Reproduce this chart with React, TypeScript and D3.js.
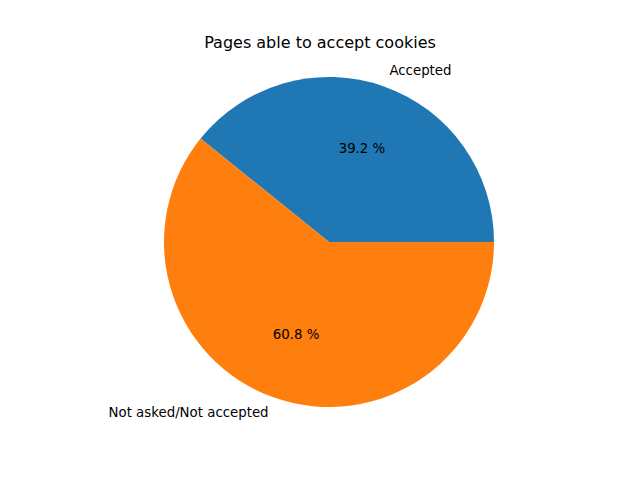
import * as d3 from "d3";

const labels = ["Accepted", "Not asked/Not accepted"];
const shares = [39.2, 60.8];
const colors = ["#1f77b4", "#ff7f0e"];

export default function App() {
  const width = 640;
  const height = 480;
  const cx = 329;
  const cy = 242;
  const r = 165;
  const total = d3.sum(shares);
  const arc = d3.arc<any>();

  // matplotlib style: start at east, counterclockwise
  let start = 0;
  const slices = shares.map((v, i) => {
    const a0 = start;
    const a1 = start + (v / total) * 2 * Math.PI;
    start = a1;
    const mid = (a0 + a1) / 2;
    return { i, a0, a1, mid };
  });

  return (
    <svg
      width={width}
      height={height}
      style={{ position: "absolute", left: 0, top: 0, background: "white" }}
      fontFamily="DejaVu Sans"
    >
      <text x={width / 2} y={43} textAnchor="middle" dominantBaseline="middle" fontSize={16}>
        Pages able to accept cookies
      </text>
      <g transform={`translate(${cx},${cy})`}>
        {slices.map((s) => (
          <path
            key={s.i}
            d={
              arc({
                innerRadius: 0,
                outerRadius: r,
                startAngle: Math.PI / 2 - s.a1,
                endAngle: Math.PI / 2 - s.a0,
              }) || undefined
            }
            fill={colors[s.i]}
          />
        ))}
        {slices.map((s) => {
          const lx = 1.1 * r * Math.cos(s.mid);
          const ly = -1.1 * r * Math.sin(s.mid);
          const px = 0.6 * r * Math.cos(s.mid);
          const py = -0.6 * r * Math.sin(s.mid);
          return (
            <g key={s.i} fontSize={13.33}>
              <text x={lx} y={ly} textAnchor={lx > 0 ? "start" : "end"} dominantBaseline="middle">
                {labels[s.i]}
              </text>
              <text x={px} y={py} textAnchor="middle" dominantBaseline="middle">
                {`${shares[s.i].toFixed(1)} %`}
              </text>
            </g>
          );
        })}
      </g>
    </svg>
  );
}
